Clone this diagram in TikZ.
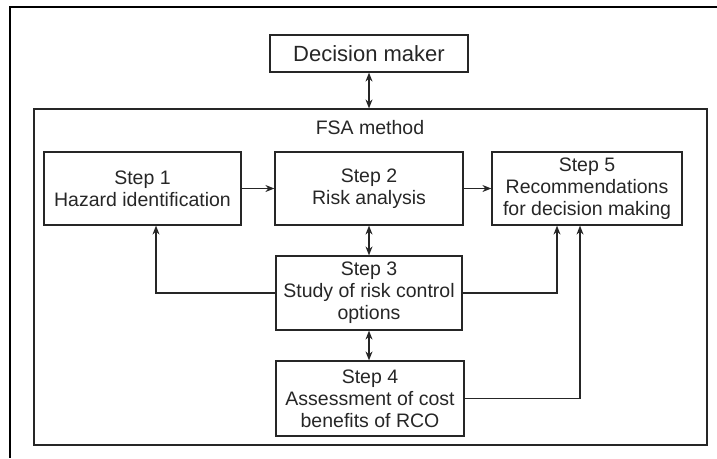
\documentclass[tikz,border=0pt]{standalone}
\usepackage{fontspec}
\setmainfont{Liberation Sans}
\usetikzlibrary{arrows.meta}
\definecolor{khung}{HTML}{262626}

\begin{document}
\begin{tikzpicture}[x=1pt, y=-1pt, >={Stealth[length=9pt,width=7pt]}, khung, line width=1.2pt,
		node font=\fontsize{19.5}{22}\selectfont,
		hop/.style={draw, align=center, inner sep=0pt}]
			\useasboundingbox (0,0) rectangle (717,458);
			\draw[black, line width=2.2pt] (717,7) -- (10,7) -- (10,458);
			
			\node[hop, minimum width=198, minimum height=37, font=\fontsize{22}{24}\selectfont] (dm) at (369,53.5) {Decision maker};
			\node[hop, minimum width=673, minimum height=336] (fsa) at (370.5,277) {};
			\node (fsaname) at (370,128) {FSA method};
			
			\node[hop, minimum width=197, minimum height=73] (s1) at (142.5,188.5) {Step 1\\Hazard identification};
			\node[hop, minimum width=188, minimum height=73] (s2) at (369,188.5) {Step 2\\Risk analysis};
			\node[hop, minimum width=190, minimum height=73] (s5) at (587,188.5) {Step 5\\Recommendations\\for decision making};
			\node[hop, minimum width=186, minimum height=74] (s3) at (369,293) {Step 3\\Study of risk control\\options};
			\node[hop, minimum width=188, minimum height=75] (s4) at (370,398.5) {Step 4\\Assessment of cost\\benefits of RCO};
			
			\draw[<->] (dm) -- (dm |- fsa.north);
			\draw[->] (s1) -- (s2);
			\draw[->] (s2) -- (s5);
			\draw[<->] (s2) -- (s2 |- s3.north);
			\draw[<->] (s3) -- (s3 |- s4.north);
			\draw[->] (s3.west) -| ([xshift=13.5]s1.south);
			\draw[->] (s3.east) -| ([xshift=-30]s5.south);
			\draw[->] (s4.east) -| ([xshift=-7]s5.south);
		\end{tikzpicture}
\end{document}
